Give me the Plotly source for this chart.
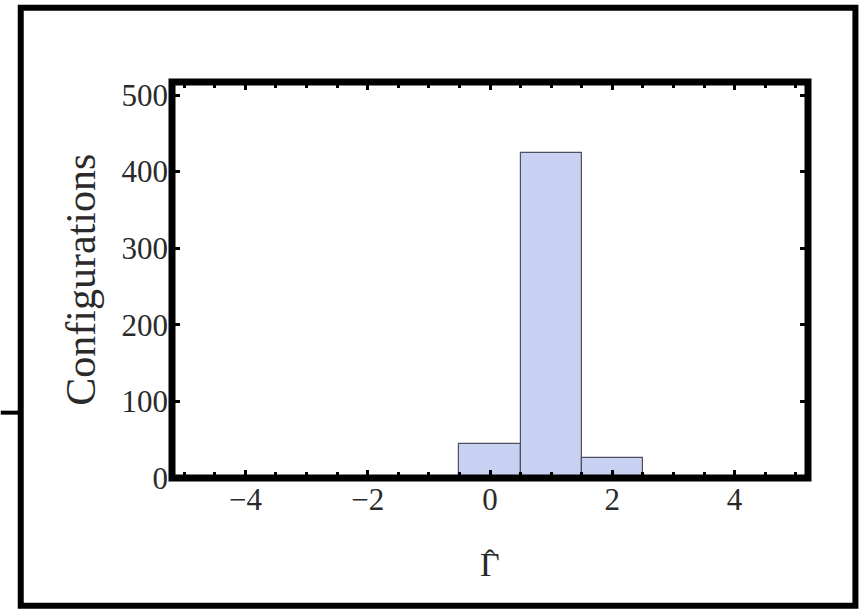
import plotly.graph_objects as go

# Data
bin_centers = [0, 1, 2]
bin_width = 1.0
counts = [45, 424, 26]
x_tickvals = [-4, -2, 0, 2, 4]
y_tickvals = [0, 100, 200, 300, 400, 500]

W, H = 859, 610
L, R, T, B = 171.5, 808.5, 81.5, 478.5
pw, ph = R - L, B - T

def px(x):
    return (x - L) / pw

def py(y):
    return (B - y) / ph

fig = go.Figure()
fig.add_trace(go.Bar(
    x=bin_centers, y=counts, width=bin_width,
    marker=dict(color="#C9D1F3", line=dict(color="#4E5060", width=1.2)),
    showlegend=False,
))

font = dict(family="Liberation Serif", size=31, color="#2A2A2A")

fig.update_layout(
    width=W, height=H,
    margin=dict(l=L, r=W - R, t=T, b=H - B, pad=0),
    paper_bgcolor="white", plot_bgcolor="white",
    bargap=0,
    xaxis=dict(range=[-5.2, 5.2], tickvals=x_tickvals, ticks="inside", ticklen=8,
               tickwidth=2.5, tickcolor="black", showgrid=False, zeroline=False,
               showline=False, mirror="allticks", tickfont=font,
               minor=dict(dtick=0.5, tick0=0, ticks="inside", ticklen=6, tickwidth=2.5,
                          tickcolor="black", showgrid=False)),
    yaxis=dict(range=[0, 517], tickvals=y_tickvals, ticks="inside", ticklen=8,
               tickwidth=2.5, tickcolor="black", showgrid=False, zeroline=False,
               showline=False, mirror="allticks", tickfont=font, ticklabelstandoff=3),
    shapes=[
        dict(type="rect", xref="paper", yref="paper", x0=0, x1=1, y0=0, y1=1,
             line=dict(color="black", width=7), layer="above"),
        dict(type="rect", xref="paper", yref="paper", x0=px(20), x1=px(856),
             y0=py(606.5), y1=py(7), line=dict(color="black", width=6), layer="above"),
        dict(type="rect", xref="paper", yref="paper", x0=px(0), x1=px(20),
             y0=py(415), y1=py(411), fillcolor="black", line=dict(width=0)),
    ],
    annotations=[
        dict(text="Configurations", xref="paper", yref="paper", x=px(80), y=0.5,
             textangle=-90, showarrow=False, font=dict(family="Liberation Serif", size=42, color="#2A2A2A"),
             xanchor="center", yanchor="middle"),
        dict(text="Γ", xref="paper", yref="paper", x=px(490), y=py(565),
             showarrow=False, font=dict(family="Liberation Serif", size=34, color="#2A2A2A"),
             xanchor="center", yanchor="middle"),
        dict(text="ˆ", xref="paper", yref="paper", x=px(490), y=py(560),
             showarrow=False, font=dict(family="Liberation Serif", size=30, color="#2A2A2A"),
             xanchor="center", yanchor="middle"),
    ],
)

fig.write_html("out.html")
